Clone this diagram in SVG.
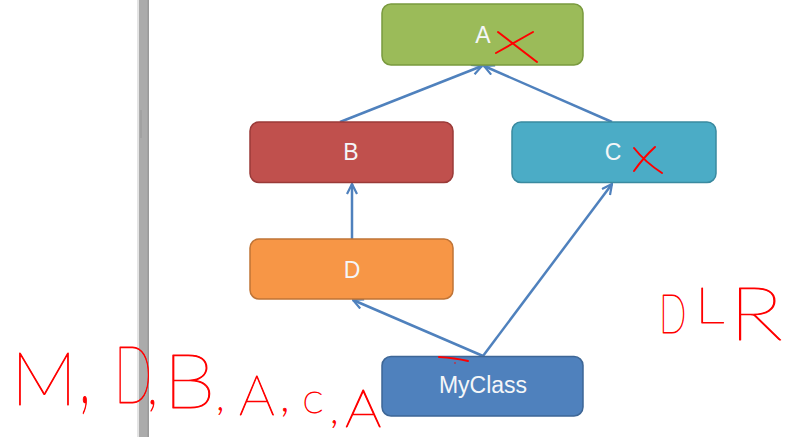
<svg xmlns="http://www.w3.org/2000/svg" width="805" height="437" viewBox="0 0 805 437">
  <defs>
    <marker id="arr" viewBox="0 0 12 12" refX="11" refY="6" markerWidth="12" markerHeight="12" markerUnits="userSpaceOnUse" orient="auto">
      <path d="M1,1 L11,6 L1,11" fill="none" stroke="#4F81BD" stroke-width="2.2" stroke-linejoin="miter"/>
    </marker>
  </defs>
  <style>
    .node { stroke-width: 1.5; }
    .lbl { font-family: "Liberation Sans", Arial, sans-serif; font-size: 23px; fill: #F4F6F8; text-anchor: middle; dominant-baseline: central; }
    .conn { stroke: #4F81BD; stroke-width: 2.5; fill: none; marker-end: url(#arr); }
    .hand { font-family: "Lato", "Roboto", "Liberation Sans", sans-serif; font-weight: 200; fill: #FF0000; stroke: #FF0000; stroke-width: 0.9; stroke-linejoin: round; }
    .mark { stroke: #FF0000; stroke-width: 2; fill: none; stroke-linecap: round; stroke-linejoin: round; }
  </style>
  <rect width="805" height="437" fill="#FFFFFF"/>
  <g id="sidebar">
    <rect x="137" y="0" width="2" height="437" fill="#E4E4E4"/>
    <rect x="139" y="0" width="10" height="437" fill="#ABABAB"/>
    <rect x="147.5" y="0" width="1.5" height="437" fill="#9A9A9A"/>
    <rect x="140" y="110" width="2" height="28" fill="#9C9C9C" opacity="0.7"/>
  </g>
  <g id="connectors">
    <line class="conn" x1="483" y1="356" x2="353" y2="300"/>
    <line class="conn" x1="483" y1="356" x2="612" y2="184"/>
    <line class="conn" x1="352" y1="239" x2="352" y2="184"/>
    <line class="conn" x1="340" y1="122" x2="482" y2="66"/>
    <line class="conn" x1="612" y1="122" x2="484" y2="66"/>
  </g>
  <g id="node-A">
    <rect class="node" x="382" y="4" width="201" height="61" rx="9" fill="#9BBB59" stroke="#7A9A3E"/>
    <text class="lbl" x="483" y="35">A</text>
  </g>
  <g id="node-B">
    <rect class="node" x="250" y="122" width="203" height="60.5" rx="9" fill="#C0504D" stroke="#9A3A38"/>
    <text class="lbl" x="351" y="152">B</text>
  </g>
  <g id="node-C">
    <rect class="node" x="512" y="122" width="204" height="60.5" rx="9" fill="#4BACC6" stroke="#3A8AA0"/>
    <text class="lbl" x="613" y="152">C</text>
  </g>
  <g id="node-D">
    <rect class="node" x="250" y="239" width="203" height="60" rx="9" fill="#F79646" stroke="#C07436"/>
    <text class="lbl" x="352" y="270">D</text>
  </g>
  <g id="node-MyClass">
    <rect class="node" x="382" y="356.5" width="201" height="59.5" rx="9" fill="#4F81BD" stroke="#3D6696"/>
    <text class="lbl" x="483" y="385">MyClass</text>
  </g>
  <g id="marks">
    <path class="mark" d="M498,32 Q515,45 537,62 M533,32 Q512,44 496,53"/>
    <path class="mark" d="M634,148 Q645,162 662,173 M655,147 Q643,158 634,171"/>
    <path class="mark" d="M439,357 Q455,358 468,361"/>
    <circle cx="455" cy="363" r="0.8" fill="#FF0000"/>
  </g>
  <g id="note-order">
    <text class="hand" font-size="74" transform="translate(11,405)">M</text>
    <text class="hand" font-size="60" transform="translate(79,402) scale(0.9,1.6)">,</text>
    <text class="hand" font-size="80" transform="translate(114,403) scale(0.63,1)">D</text>
    <text class="hand" font-size="56" transform="translate(147,404) scale(0.9,1.1)">,</text>
    <text class="hand" font-size="77" transform="translate(163,408) scale(1.1,1)">B</text>
    <text class="hand" font-size="40" transform="translate(216,410)">,</text>
    <text class="hand" font-size="56" transform="translate(239,415)">A</text>
    <text class="hand" font-size="45" transform="translate(280,411)">,</text>
    <text class="hand" font-size="29" transform="translate(303,413)">C</text>
    <text class="hand" font-size="40" transform="translate(330,423)">,</text>
    <text class="hand" font-size="52" transform="translate(345,427) scale(1.1,1)">A</text>
  </g>
  <g id="note-dlr">
    <text class="hand" font-size="53" transform="translate(659,333) scale(0.68,1)">D</text>
    <text class="hand" font-size="49" transform="translate(695,323) scale(1.2,1)">L</text>
    <text class="hand" font-size="74" transform="translate(729,340) scale(1.23,1)">R</text>
  </g>
</svg>
